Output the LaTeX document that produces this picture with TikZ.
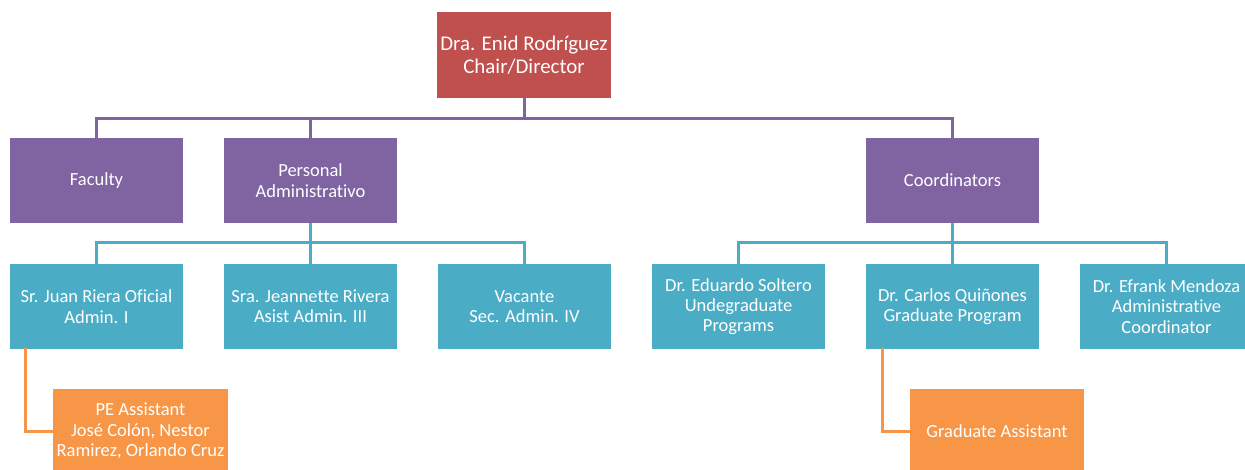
\documentclass[tikz,border=0pt]{standalone}
\usepackage{fontspec}
\setmainfont{Carlito}[RawFeature={-liga;-clig;-calt;-dlig}]
\definecolor{cred}{HTML}{C0504D}
\definecolor{cpurple}{HTML}{8064A2}
\definecolor{cblue}{HTML}{4BACC6}
\definecolor{corange}{HTML}{F79646}
\tikzset{
  orgbox/.style={minimum width=173pt, minimum height=85pt, inner sep=0pt, align=center, text=white, font=\fontsize{18.5}{20.3}\selectfont},
  chairbox/.style={orgbox, fill=cred, minimum width=174pt, minimum height=86pt, font=\fontsize{20.9}{23}\selectfont},
  purplebox/.style={orgbox, fill=cpurple},
  bluebox/.style={orgbox, fill=cblue},
  orangebox/.style={orgbox, fill=corange, minimum width=175pt},
  pline/.style={draw=cpurple, line width=3pt},
  bline/.style={draw=cblue, line width=3pt},
  oline/.style={draw=corange, line width=3pt},
}
\begin{document}
\begin{tikzpicture}[x=1pt,y=-1pt]
\useasboundingbox (0,0) rectangle (1245,470);
\clip (0,0) rectangle (1245,470);
\fill[white] (0,0) rectangle (1245,470);
\coordinate (b1) at (524,119);
\coordinate (b2) at (310.5,243);
\coordinate (b3) at (952.5,243);
\coordinate (o1) at (25,348);
\coordinate (o2) at (882,348);

\node[chairbox] (chair) at (524,55) {Dra. Enid Rodríguez\\Chair/Director};

\node[purplebox] (fac) at (96.5,180.5) {Faculty};
\node[purplebox] (pers) at (310.5,180.5) {Personal\\Administrativo};
\node[purplebox] (coord) at (952.5,180.5) {Coordinators};

\node[bluebox] (juan) at (96.5,306.5) {Sr. Juan Riera Oficial\\Admin. I};
\node[bluebox] (jea) at (310.5,306.5) {Sra. Jeannette Rivera\\Asist Admin. III};
\node[bluebox] (vac) at (524.5,306.5) {Vacante\\Sec. Admin. IV};
\node[bluebox] (edu) at (738.5,306.5) {Dr. Eduardo Soltero\\Undegraduate\\Programs};
\node[bluebox] (car) at (952.5,306.5) {Dr. Carlos Quiñones\\Graduate Program};
\node[bluebox] (efr) at (1166.5,306.5) {Dr. Efrank Mendoza\\Administrative\\Coordinator};

\node[orangebox] (pe) at (140.5,431) {PE Assistant\\José Colón, Nestor\\Ramirez, Orlando Cruz};
\node[orangebox, minimum width=174pt] (grad) at (997,431) {Graduate Assistant};

\draw[pline] (chair.south) -- (b1);
\draw[pline] (fac.north) |- (b1);
\draw[pline] (pers.north) |- (b1);
\draw[pline] (coord.north) |- (b1);

\draw[bline] (pers.south) -- (b2);
\draw[bline] (juan.north) |- (b2);
\draw[bline] (jea.north) -- (b2);
\draw[bline] (vac.north) |- (b2);

\draw[bline] (coord.south) -- (b3);
\draw[bline] (edu.north) |- (b3);
\draw[bline] (car.north) -- (b3);
\draw[bline] (efr.north) |- (b3);

\draw[oline] (o1) |- (pe.west);
\draw[oline] (o2) |- (grad.west);
\end{tikzpicture}
\end{document}
